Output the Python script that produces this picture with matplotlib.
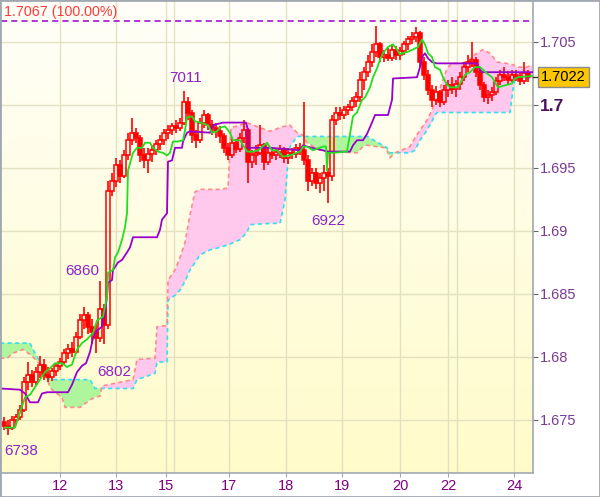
import numpy as np
import matplotlib
matplotlib.use("Agg")
import matplotlib.pyplot as plt
import matplotlib.transforms as mtransforms
from matplotlib.patches import Rectangle

plt.rcParams['font.family'] = ['Liberation Sans', 'DejaVu Sans']

# ---- price bars ----
opens = [1.6748, 1.6745, 1.6744, 1.6750, 1.6752, 1.6758, 1.6780, 1.6786, 1.6780, 1.6788,
         1.6794, 1.6786, 1.6784, 1.6789, 1.6793, 1.6796, 1.6803, 1.6806, 1.6804, 1.6816,
         1.6829, 1.6833, 1.6824, 1.6820, 1.6815, 1.6838, 1.6825, 1.6932, 1.6940, 1.6952,
         1.6944, 1.6960, 1.6972, 1.6978, 1.6974, 1.6960, 1.6956, 1.6961, 1.6964, 1.6969,
         1.6972, 1.6978, 1.6980, 1.6983, 1.6982, 1.6986, 1.7002, 1.6994, 1.6976, 1.6972,
         1.6986, 1.6992, 1.6984, 1.6982, 1.6979, 1.6975, 1.6966, 1.6960, 1.6970, 1.6965,
         1.6974, 1.6980, 1.6955, 1.6960, 1.6962, 1.6968, 1.6955, 1.6962, 1.6960, 1.6963,
         1.6965, 1.6958, 1.6962, 1.6961, 1.6966, 1.6964, 1.6956, 1.6940, 1.6946, 1.6938,
         1.6942, 1.6946, 1.6944, 1.6988, 1.6994, 1.6992, 1.6996, 1.6998, 1.7003, 1.7006,
         1.7020, 1.7026, 1.7034, 1.7042, 1.7048, 1.7038, 1.7040, 1.7037, 1.7044, 1.7040,
         1.7043, 1.7048, 1.7052, 1.7054, 1.7057, 1.7034, 1.7024, 1.7012, 1.7004, 1.7010,
         1.7002, 1.7012, 1.7016, 1.7013, 1.7017, 1.7022, 1.7030, 1.7034, 1.7036, 1.7026,
         1.7016, 1.7006, 1.7008, 1.7010, 1.7019, 1.7024, 1.7022, 1.7020, 1.7024, 1.7021,
         1.7019, 1.7025]
highs = [1.6752, 1.6750, 1.6753, 1.6755, 1.6762, 1.6784, 1.6796, 1.6790, 1.6792, 1.6801,
         1.6798, 1.6792, 1.6791, 1.6795, 1.6799, 1.6806, 1.6810, 1.6812, 1.6820, 1.6834,
         1.6840, 1.6836, 1.6830, 1.6826, 1.6860, 1.6842, 1.6940, 1.6946, 1.6958, 1.6956,
         1.6964, 1.6978, 1.6990, 1.6982, 1.6976, 1.6966, 1.6966, 1.6968, 1.6972, 1.6976,
         1.6981, 1.6984, 1.6986, 1.6988, 1.6990, 1.7011, 1.7006, 1.6996, 1.6980, 1.6990,
         1.6996, 1.6994, 1.6988, 1.6986, 1.6983, 1.6978, 1.6970, 1.6974, 1.6973, 1.6978,
         1.6988, 1.6982, 1.6964, 1.6968, 1.6984, 1.6970, 1.6966, 1.6967, 1.6966, 1.6968,
         1.6967, 1.6966, 1.6966, 1.6969, 1.6970, 1.7002, 1.6960, 1.6950, 1.6950, 1.6946,
         1.6952, 1.6950, 1.6992, 1.6998, 1.6998, 1.6999, 1.7001, 1.7006, 1.7010, 1.7026,
         1.7030, 1.7040, 1.7048, 1.7063, 1.7050, 1.7044, 1.7045, 1.7048, 1.7047, 1.7046,
         1.7051, 1.7055, 1.7058, 1.7062, 1.7059, 1.7038, 1.7028, 1.7016, 1.7015, 1.7012,
         1.7016, 1.7020, 1.7022, 1.7020, 1.7026, 1.7034, 1.7040, 1.7050, 1.7038, 1.7030,
         1.7018, 1.7012, 1.7014, 1.7022, 1.7028, 1.7030, 1.7027, 1.7028, 1.7028, 1.7026,
         1.7034, 1.7028]
lows = [1.6742, 1.6738, 1.6742, 1.6746, 1.6750, 1.6756, 1.6774, 1.6776, 1.6778, 1.6783,
        1.6782, 1.6780, 1.6781, 1.6785, 1.6790, 1.6794, 1.6798, 1.6800, 1.6802, 1.6814,
        1.6822, 1.6818, 1.6810, 1.6803, 1.6812, 1.6810, 1.6822, 1.6928, 1.6935, 1.6938,
        1.6942, 1.6956, 1.6968, 1.6970, 1.6955, 1.6950, 1.6946, 1.6955, 1.6960, 1.6964,
        1.6968, 1.6973, 1.6976, 1.6978, 1.6979, 1.6984, 1.6988, 1.6970, 1.6966, 1.6970,
        1.6982, 1.6980, 1.6976, 1.6974, 1.6970, 1.6962, 1.6956, 1.6958, 1.6962, 1.6963,
        1.6970, 1.6938, 1.6950, 1.6952, 1.6960, 1.6948, 1.6952, 1.6957, 1.6956, 1.6958,
        1.6954, 1.6953, 1.6957, 1.6958, 1.6960, 1.6952, 1.6932, 1.6936, 1.6933, 1.6930,
        1.6932, 1.6922, 1.6940, 1.6984, 1.6988, 1.6989, 1.6992, 1.6995, 1.6998, 1.7002,
        1.7012, 1.7022, 1.7030, 1.7038, 1.7034, 1.7034, 1.7035, 1.7035, 1.7036, 1.7036,
        1.7040, 1.7044, 1.7048, 1.7050, 1.7030, 1.7020, 1.7008, 1.6998, 1.7000, 1.6998,
        1.7000, 1.7006, 1.7009, 1.7006, 1.7012, 1.7019, 1.7026, 1.7030, 1.7022, 1.7012,
        1.7002, 1.7001, 1.7003, 1.7008, 1.7016, 1.7019, 1.7017, 1.7018, 1.7019, 1.7016,
        1.7017, 1.7018]
closes = [1.6745, 1.6744, 1.6750, 1.6752, 1.6758, 1.6780, 1.6786, 1.6780, 1.6788, 1.6794,
          1.6786, 1.6784, 1.6789, 1.6793, 1.6796, 1.6803, 1.6806, 1.6804, 1.6816, 1.6829,
          1.6833, 1.6824, 1.6820, 1.6815, 1.6838, 1.6825, 1.6932, 1.6940, 1.6952, 1.6944,
          1.6960, 1.6972, 1.6978, 1.6974, 1.6960, 1.6956, 1.6961, 1.6964, 1.6969, 1.6972,
          1.6978, 1.6980, 1.6983, 1.6982, 1.6986, 1.7002, 1.6994, 1.6976, 1.6972, 1.6986,
          1.6992, 1.6984, 1.6982, 1.6979, 1.6975, 1.6966, 1.6960, 1.6970, 1.6965, 1.6974,
          1.6980, 1.6955, 1.6960, 1.6962, 1.6968, 1.6955, 1.6962, 1.6960, 1.6963, 1.6965,
          1.6958, 1.6962, 1.6961, 1.6966, 1.6964, 1.6956, 1.6940, 1.6946, 1.6938, 1.6942,
          1.6946, 1.6944, 1.6988, 1.6994, 1.6992, 1.6996, 1.6998, 1.7003, 1.7006, 1.7020,
          1.7026, 1.7034, 1.7042, 1.7048, 1.7038, 1.7040, 1.7037, 1.7044, 1.7040, 1.7043,
          1.7048, 1.7052, 1.7054, 1.7057, 1.7034, 1.7024, 1.7012, 1.7004, 1.7010, 1.7002,
          1.7012, 1.7016, 1.7013, 1.7017, 1.7022, 1.7030, 1.7034, 1.7036, 1.7026, 1.7016,
          1.7006, 1.7008, 1.7010, 1.7019, 1.7024, 1.7022, 1.7020, 1.7024, 1.7021, 1.7019,
          1.7025, 1.7022]

# ---- ichimoku lines (bar position, price) ----
tenkan_x = [1.25, 3.75, 5, 6.25, 7.5, 10, 11.25, 12.5, 13.75, 15.5, 16.75, 18, 19.25, 20.5,
            21.75, 23.25, 24.25, 25.75, 26.75, 27, 28.25, 28.75, 29.5, 30.5, 31.25, 31.75,
            32, 33.25, 34.25, 35.5, 36.25, 37.5, 38.25, 39.5, 40.75, 41.75, 42.5, 43.25,
            44.5, 45.75, 46.25, 46.75, 48, 48.75, 50, 52, 53, 54.25, 55, 56.25, 57.5, 58.25,
            60, 61.75, 63.25, 64.5, 66.75, 68, 69.25, 70.75, 72.5, 75, 75.75, 76.75, 78.25,
            80.75, 81.5, 81.75, 82, 83.25, 86.75, 88.25, 89.25, 90.5, 91.25, 92.5, 93.25,
            94.25, 95, 95.75, 97, 98.25, 99.25, 100, 100.5, 101.75, 103.25, 104.5, 105.5,
            106.25, 107, 108, 108.75, 110, 110.75, 111.75, 112.5, 114.5, 115.5, 116.25,
            117.5, 118.75, 120, 121.75, 123, 123.75, 124.5, 126.75, 128, 128.75, 129.5, 133]
tenkan_y = [1.6744, 1.6744, 1.6756, 1.6768, 1.6770, 1.6782, 1.6788, 1.6791, 1.6795, 1.6795,
            1.6792, 1.6794, 1.6806, 1.6811, 1.6814, 1.6819, 1.6829, 1.6832, 1.6848, 1.6867,
            1.6869, 1.6879, 1.6883, 1.6893, 1.6903, 1.6914, 1.6948, 1.6962, 1.6966, 1.6966,
            1.6970, 1.6970, 1.6966, 1.6963, 1.6962, 1.6960, 1.6962, 1.6971, 1.6971, 1.6972,
            1.6980, 1.6990, 1.6991, 1.6987, 1.6986, 1.6984, 1.6978, 1.6979, 1.6982, 1.6983,
            1.6978, 1.6972, 1.6972, 1.6963, 1.6963, 1.6964, 1.6970, 1.6964, 1.6964, 1.6959,
            1.6960, 1.6963, 1.6967, 1.6967, 1.6964, 1.6967, 1.6967, 1.6948, 1.6962, 1.6962,
            1.6963, 1.6991, 1.6994, 1.7004, 1.7006, 1.7014, 1.7022, 1.7029, 1.7036, 1.7041,
            1.7046, 1.7048, 1.7044, 1.7040, 1.7041, 1.7042, 1.7044, 1.7046, 1.7052, 1.7048,
            1.7041, 1.7038, 1.7030, 1.7028, 1.7022, 1.7016, 1.7014, 1.7014, 1.7020, 1.7024,
            1.7026, 1.7030, 1.7030, 1.7025, 1.7022, 1.7018, 1.7014, 1.7016, 1.7017, 1.7021,
            1.7022, 1.7023]
kijun_x = [0, 5, 6.25, 7.5, 9.5, 10.5, 11.75, 17, 18, 19.25, 20.5, 21.5, 22.5, 23.25, 24.25,
           25.5, 26.25, 26.75, 27, 28, 28.25, 29.5, 30.5, 31.75, 32.5, 33.25, 39.25, 40,
           40.5, 41.75, 42, 43, 43.75, 45.5, 45.75, 46.75, 47.5, 52.5, 53.25, 55.75, 61.5,
           62, 62, 67.5, 75, 75.75, 76.75, 82, 87.5, 88.25, 89.25, 90.75, 91.75, 93, 93.75,
           97, 98, 98.25, 104.25, 105, 105.5, 106.25, 107, 108, 109.25, 119.25, 120, 120.5,
           133.25]
kijun_y = [1.6775, 1.6774, 1.6771, 1.6764, 1.6764, 1.6771, 1.6772, 1.6772, 1.6778, 1.6788,
           1.6793, 1.6795, 1.6804, 1.6815, 1.6821, 1.6824, 1.6835, 1.6848, 1.6859, 1.6861,
           1.6869, 1.6875, 1.6877, 1.6883, 1.6887, 1.6895, 1.6895, 1.6901, 1.6909, 1.6914,
           1.6955, 1.6956, 1.6966, 1.6966, 1.6971, 1.6978, 1.6979, 1.6978, 1.6984, 1.6986,
           1.6986, 1.6980, 1.6966, 1.6966, 1.6964, 1.6968, 1.6967, 1.6963, 1.6963, 1.6968,
           1.6972, 1.6972, 1.6977, 1.6986, 1.6992, 1.6992, 1.7004, 1.7021, 1.7022, 1.7030,
           1.7038, 1.7041, 1.7037, 1.7034, 1.7033, 1.7033, 1.7028, 1.7026, 1.7026]

# cloud: span A (cyan edge) and span B (salmon edge) on a shared bar grid
cloud_x = [0, 1.75, 3.25, 5.75, 7.5, 8.25, 10, 11.25, 11.75, 12.5, 13, 15.5, 16.25, 20,
           22.5, 23.75, 25, 25.5, 33.25, 34.25, 38.75, 39.25, 41.75, 42, 43.75, 45, 46.25,
           47.5, 48.75, 50, 52.5, 55, 57, 57.75, 60, 61.75, 62.5, 67.5, 70, 70.75, 71.25,
           72, 72.5, 74.25, 75.75, 76.75, 80, 82.5, 89.25, 90.75, 91.75, 96.25, 96.75,
           97.5, 98.75, 102.5, 103.75, 105, 106.75, 108, 108.75, 109.25, 110.75, 111.75,
           113, 115, 116.75, 118.75, 120.75, 122.5, 124.25, 126.75, 127.5, 128.25, 128.75,
           129.25, 131.75, 133.25]
span_a = [1.6811, 1.6811, 1.6811, 1.6811, 1.6811, 1.6806, 1.6796, 1.6789, 1.6785, 1.6782,
          1.6782, 1.6782, 1.6782, 1.6782, 1.6782, 1.6775, 1.6775, 1.6775, 1.6775, 1.6782,
          1.6787, 1.6796, 1.6796, 1.6845, 1.6849, 1.6853, 1.6860, 1.6869, 1.6875, 1.6881,
          1.6885, 1.6887, 1.6889, 1.6890, 1.6893, 1.6899, 1.6905, 1.6906, 1.6906, 1.6917,
          1.6925, 1.6956, 1.6967, 1.6975, 1.6975, 1.6975, 1.6975, 1.6975, 1.6975, 1.6975,
          1.6975, 1.6967, 1.6966, 1.6962, 1.6962, 1.6962, 1.6964, 1.6972, 1.6980, 1.6987,
          1.6992, 1.6994, 1.6994, 1.6994, 1.6994, 1.6994, 1.6994, 1.6994, 1.6994, 1.6994,
          1.6994, 1.6994, 1.6994, 1.7012, 1.7020, 1.7021, 1.7021, 1.7021]
span_b = [1.6799, 1.6799, 1.6803, 1.6806, 1.6802, 1.6800, 1.6794, 1.6789, 1.6783, 1.6776,
          1.6774, 1.6768, 1.6760, 1.6760, 1.6766, 1.6768, 1.6769, 1.6777, 1.6782, 1.6798,
          1.6799, 1.6824, 1.6825, 1.6861, 1.6869, 1.6879, 1.6891, 1.6913, 1.6931, 1.6933,
          1.6933, 1.6933, 1.6934, 1.6982, 1.6984, 1.6986, 1.6985, 1.6979, 1.6982, 1.6983,
          1.6983, 1.6984, 1.6984, 1.6978, 1.6976, 1.6970, 1.6964, 1.6963, 1.6962, 1.6967,
          1.6968, 1.6966, 1.6964, 1.6958, 1.6962, 1.6967, 1.6974, 1.6980, 1.6988, 1.6996,
          1.7002, 1.7006, 1.7020, 1.7029, 1.7033, 1.7033, 1.7034, 1.7040, 1.7044, 1.7041,
          1.7034, 1.7033, 1.7032, 1.7032, 1.7031, 1.7030, 1.7030, 1.7032]

xtick_pos = [15, 29, 41.5, 57.25, 71.5, 85.5, 100, 112, 128.5]
xtick_labels = ['12', '13', '15', '17', '18', '19', '20', '22', '24']
week_lines = [43.5, 114.25]
ytick_vals = [1.675, 1.68, 1.685, 1.69, 1.695, 1.7, 1.705]
ytick_labels = ['1.675', '1.68', '1.685', '1.69', '1.695', '1.7', '1.705']

top_price = 1.7067
last_price = 1.7022
mark_text = ['7011', '6860', '6802', '6738', '6922']
mark_x = [46.5, 20.5, 28.5, 5.4, 82]
mark_y = [1.7021, 1.6868, 1.6788, 1.6725, 1.6908]

fig = plt.figure(figsize=(6, 4.97), dpi=100)
ax = fig.add_axes([1 / 600, 24 / 497, 532 / 600, 472 / 497])
xmin, xmax, ymin, ymax = 0.25, 133.25, 1.67079, 1.70825
ax.set_xlim(xmin, xmax)
ax.set_ylim(ymin, ymax)

# background gradient
top_c = np.array([1.0, 1.0, 0.975])
bot_c = np.array([1.0, 0.985, 0.79])
t = np.linspace(0, 1, 256)[:, None, None]
grad = top_c * (1 - t) + bot_c * t
ax.imshow(grad, extent=[xmin, xmax, ymin, ymax], aspect='auto', origin='upper', zorder=0)

gridc = '#e4e0c2'
for yv in ytick_vals:
    ax.axhline(yv, color=gridc, lw=1, zorder=0.5)
for xv in xtick_pos + week_lines:
    ax.axvline(xv, color=gridc, lw=1, zorder=0.5)

# cloud
a = np.array(span_a)
b = np.array(span_b)
ax.fill_between(cloud_x, a, b, where=a >= b, interpolate=True, color='#aef59c', lw=0, zorder=1)
ax.fill_between(cloud_x, a, b, where=b >= a, interpolate=True, color='#ffc8ec', lw=0, zorder=1)
ax.plot(cloud_x, span_a, color='#30e0f0', lw=1.2, ls=(0, (2.5, 2)), zorder=1.5)
ax.plot(cloud_x, span_b, color='#ff8a8a', lw=1.2, ls=(0, (2.5, 2)), zorder=1.5)

# candles
bars = np.arange(1, len(closes) + 1)
o = np.array(opens)
c = np.array(closes)
top = np.maximum(o, c)
bot = np.minimum(o, c)
ax.vlines(bars, top, highs, color='#ff0000', lw=1.2, zorder=3)
ax.vlines(bars, lows, bot, color='#ff0000', lw=1.2, zorder=3)
up = c >= o
ax.bar(bars[up], (c - o)[up], bottom=o[up], width=0.85, facecolor='none',
       edgecolor='#ff0000', lw=1.1, zorder=3)
ax.bar(bars[~up], (o - c)[~up], bottom=c[~up], width=0.85, facecolor='#ff0000',
       edgecolor='#ff0000', lw=1.1, zorder=3)

ax.plot(kijun_x, kijun_y, color='#9900cc', lw=1.3, zorder=4)
ax.plot(tenkan_x, tenkan_y, color='#22dd22', lw=1.3, zorder=4.5)

ax.axhline(top_price, color='#9900cc', lw=1.1, ls=(0, (4, 2.7)), zorder=5)
ax.text(0.9, 1.70738, f'{top_price:.4f} (100.00%)', color='#ff3a3a', fontsize=10.3,
        ha='left', va='center', zorder=6)

for s, mx, my in zip(mark_text, mark_x, mark_y):
    ax.text(mx, my, s, color='#8e24c8', fontsize=11, ha='center', va='center', zorder=6)

# axes styling
ax.yaxis.tick_right()
ax.set_yticks(ytick_vals, ytick_labels)
ax.tick_params(axis='y', direction='out', length=3.6, width=0.8, color='#666666',
               labelcolor='#7b3a96', labelsize=10.5, pad=1.5)
ax.set_xticks(xtick_pos, xtick_labels)
ax.tick_params(axis='x', direction='out', length=3, width=0.8, color='#a0a8b0',
               labelcolor='#800080', labelsize=10.5, pad=1.5)
for lab in ax.get_yticklabels():
    if lab.get_text() == '1.7':
        lab.set_fontweight('bold')
        lab.set_fontsize(12.5)
        lab.set_color('#4d0f5e')
ax.spines['left'].set_visible(False)
ax.spines['top'].set_visible(False)
for sp in ['right', 'bottom']:
    ax.spines[sp].set_color('#a0a8b0')
    ax.spines[sp].set_linewidth(1.2)

# last price marker on the right axis
trans = mtransforms.blended_transform_factory(ax.transAxes, ax.transData)
ax.plot([1, 1 + 5 / 532], [last_price, last_price], transform=trans, color='#333333',
        lw=1, clip_on=False, zorder=6)
ax.text(1 + 8 / 532, last_price, f'{last_price:.4f}', transform=trans, ha='left', va='center',
        fontsize=10.5, color='#000000', clip_on=False, zorder=7,
        bbox=dict(boxstyle='square,pad=0.2', fc='#fcc600', ec='#8c8c8c', lw=1))

fig.patches.append(Rectangle((0, 0), 1, 1, transform=fig.transFigure, fill=False,
                             edgecolor='#a0a8b0', lw=2))

fig.savefig('out.png', dpi=100)
